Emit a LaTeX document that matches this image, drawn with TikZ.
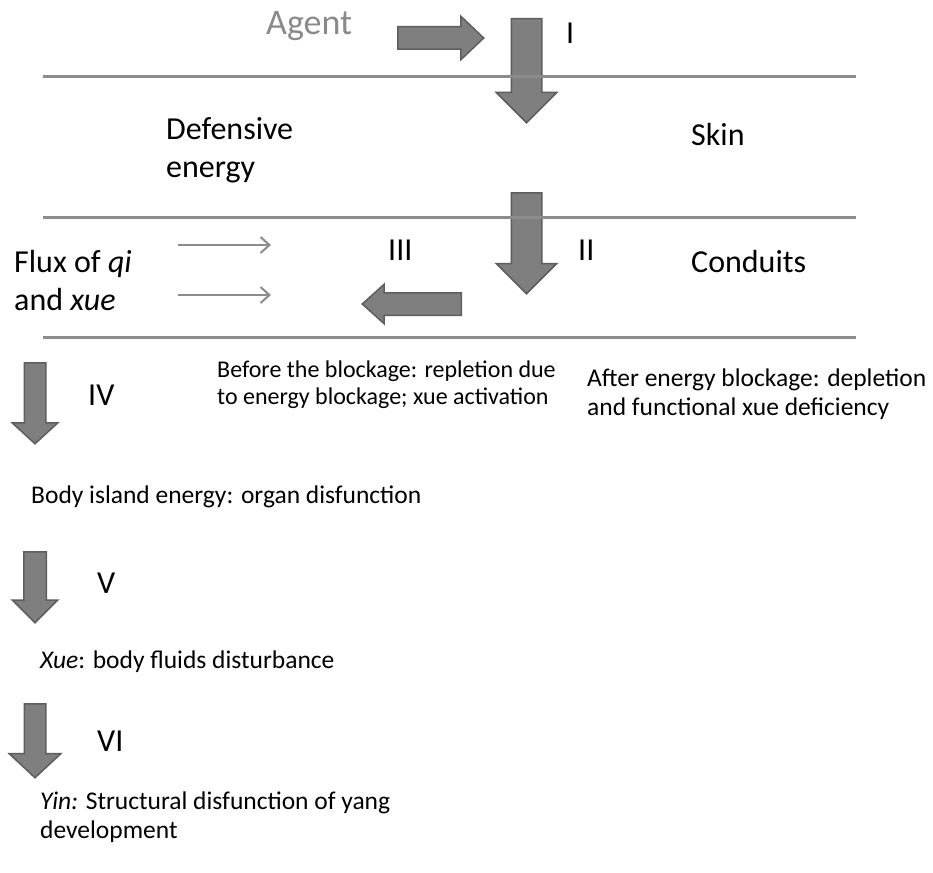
\documentclass[tikz,border=0pt]{standalone}
\usepackage{fontspec}
\setmainfont{Carlito}
\usepackage{xcolor}
\usetikzlibrary{shapes.arrows, arrows.meta, positioning}
\definecolor{rulegray}{HTML}{8C8C8C}
\definecolor{arrowfill}{HTML}{7F7F7F}
\definecolor{arrowedge}{HTML}{5E5E5E}
\definecolor{agentgray}{HTML}{8A8A8A}

\begin{document}
\begin{tikzpicture}[
    x=1pt, y=-1pt,
    bigarrow/.style={single arrow, draw=arrowedge, fill=arrowfill, line width=1.5pt, single arrow tip angle=90, anchor=tail},
    rule/.style={draw=rulegray, line width=3pt},
    flux/.style={draw=rulegray, line width=2pt, -{Straight Barb[length=9pt,width=16pt]}},
    lbl/.style={anchor=west, align=left, inner sep=0pt, font=\fontsize{32}{38}\selectfont},
    note/.style={anchor=west, align=left, inner sep=0pt, font=\fontsize{25.5}{29}\selectfont}
  ]
    \useasboundingbox (0,0) rectangle (933,872);

    % block arrows
    \node[bigarrow, minimum height=86pt, inner sep=10.5pt, single arrow head extend=10.5pt, single arrow tip angle=87] (aagent) at (397,38) {};
    \node[bigarrow, shape border rotate=270, minimum height=104pt, inner sep=14.5pt, single arrow head extend=15pt] (a1) at (526.5,18) {};
    \node[bigarrow, shape border rotate=270, minimum height=101pt, inner sep=14.5pt, single arrow head extend=15pt] (a2) at (526.5,192) {};
    \node[bigarrow, shape border rotate=180, minimum height=99pt, inner sep=10.5pt, single arrow head extend=8.5pt, single arrow tip angle=84] (a3) at (462,304) {};
    \node[bigarrow, shape border rotate=270, minimum height=81pt, inner sep=10pt, single arrow head extend=12pt, single arrow tip angle=95] (a4) at (35,362) {};
    \node[bigarrow, shape border rotate=270, minimum height=71pt, inner sep=10.5pt, single arrow head extend=11.5pt] (a5) at (35,551) {};
    \node[bigarrow, shape border rotate=270, minimum height=74pt, inner sep=10pt, single arrow head extend=15pt, single arrow tip angle=94] (a6) at (35,703) {};

    % layers
    \coordinate (r1w) at (43,77);  \coordinate (r1e) at (856,77);
    \coordinate (r2w) at (43,217); \coordinate (r2e) at (856,217);
    \coordinate (r3w) at (43,337); \coordinate (r3e) at (856,337);
    \draw[rule] (r1w) -- (r1e);
    \draw[rule] (r2w) -- (r2e);
    \draw[rule] (r3w) -- (r3e);

    % flux of qi and xue
    \coordinate (f1s) at (178,245); \coordinate (f1e) at (271,245);
    \coordinate (f2s) at (178,295); \coordinate (f2e) at (271,295);
    \draw[flux] (f1s) -- (f1e);
    \draw[flux] (f2s) -- (f2e);

    % labels
    \node[lbl, font=\fontsize{36}{42}\selectfont, text=agentgray] (agent) at (266,26) {Agent};
    \node[lbl] (n1) at (566,33) {I};
    \node[lbl] (defense) at (166,150) {Defensive\\energy};
    \node[lbl] (skin) at (691,134) {Skin};
    \node[lbl] (flux) at (14,281) {Flux of \textit{qi}\\and \textit{xue}};
    \node[lbl] (n3) at (388,250) {III};
    \node[lbl] (n2) at (578,250) {II};
    \node[lbl] (conduits) at (691,262) {Conduits};
    \node[note, font=\fontsize{24}{27}\selectfont] (before) at (217,385) {Before the blockage: repletion due\\to energy blockage; xue activation};
    \node[note] (after) at (587,394) {After energy blockage: depletion\\and functional xue deficiency};
    \node[lbl] (n4) at (88,395) {IV};
    \node[note] (island) at (31,497) {Body island energy: organ disfunction};
    \node[lbl] (n5) at (97,583) {V};
    \node[note] (xue) at (40,662) {\textit{Xue}: body fluids disturbance};
    \node[lbl] (n6) at (97,741) {VI};
    \node[note] (yin) at (40,817) {\textit{Yin:} Structural disfunction of yang\\development};
  \end{tikzpicture}
\end{document}
